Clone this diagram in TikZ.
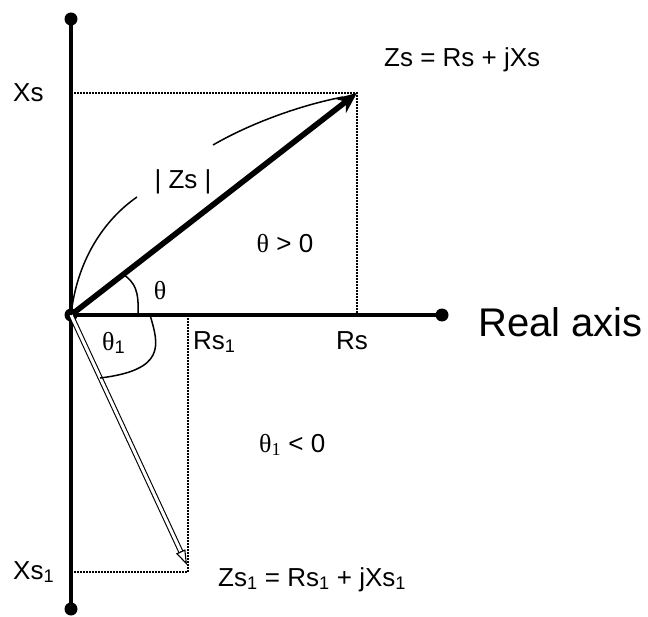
\documentclass[tikz,border=0pt]{standalone}
\usepackage{fontspec}
\setmainfont{Liberation Sans}
\newfontfamily\thfont{Liberation Serif}
\usetikzlibrary{arrows.meta,calc}

\tikzset{
  axisline/.style={line width=4.6pt},
  guide/.style={densely dotted, line width=2pt},
  thin curve/.style={line width=1.5pt},
  lbl/.style={inner sep=0pt, font=\fontsize{26}{31}\selectfont},
}

\begin{document}
\begin{tikzpicture}[x=1pt,y=1pt]
    \useasboundingbox (-71,-301) rectangle (577,315);

    % Points
    \coordinate (O) at (0,0);
    \coordinate (Ytop) at (0,296);
    \coordinate (Ybot) at (0,-294);
    \coordinate (Xend) at (371,0);
    \coordinate (Zs) at (286,222);
    \coordinate (Xs) at (0,222);
    \coordinate (Rs) at (286,0);
    \coordinate (Zsone) at (117,-257);
    \coordinate (Xsone) at (0,-257);
    \coordinate (Rsone) at (117,0);
    \coordinate (Zsonetip) at (116,-250);

    % Dotted projections
    \draw[guide] (Xs) -- (Zs) -- (Rs);
    \draw[guide] (Rsone) -- (Zsone) -- (Xsone);

    % Axes
    \draw[axisline] (Ybot) -- (Ytop);
    \draw[axisline] (O) -- (Xend);
    \fill (Ytop) circle (6.5);
    \fill (Ybot) circle (6.5);
    \fill (Xend) circle (6.5);
    \fill (O) circle (6.5);

    % Zs vector
    \draw[line width=5.6pt, -{Stealth[length=21pt,width=18pt]}] (O) -- (Zs);

    % Zs1 vector
    \draw[double, double distance=3pt, line width=1.1pt, shorten >=14pt] (O) -- (Zsonetip);
    \draw[line width=1.1pt, -{Triangle[open, length=15pt, width=10pt]}] ($(Zsonetip)!15pt!(O)$) -- (Zsonetip);

    % Angles
    \draw[thin curve] (67,0) .. controls (68,25) and (64,32) .. (52,41);
    \draw[thin curve] (79,0) .. controls (88,-30) and (95,-55) .. (29,-63);

    % |Zs| curve
    \draw[thin curve] (O) .. controls (6,55) and (33,95) .. (66,118);
    \draw[thin curve] (142,170) .. controls (180,192) and (230,210) .. (272,218);

    % Text labels
    \node[lbl, anchor=base west] at (-58,213) {Xs};
    \node[lbl, anchor=base west] at (-58,-264) {Xs\textsubscript{1}};
    \node[lbl, anchor=base west] at (313,248) {Zs = Rs + jXs};
    \node[lbl, anchor=base west] at (147,-271) {Zs\textsubscript{1} = Rs\textsubscript{1} + jXs\textsubscript{1}};
    \node[lbl, anchor=base] at (112,126) {| Zs |};
    \node[lbl, anchor=base] at (214,63) {{\thfont θ} > 0};
    \node[lbl, anchor=base] at (89,16) {\thfont θ};
    \node[lbl, anchor=base west] at (31,-35) {{\thfont θ}\textsubscript{1}};
    \node[lbl, anchor=base west] at (122,-34) {Rs\textsubscript{1}};
    \node[lbl, anchor=base] at (281,-34) {Rs};
    \node[lbl, anchor=base west, font=\fontsize{40}{48}\selectfont] at (407,-21) {Real axis};
    \node[lbl, anchor=base west] at (188,-137) {{\thfont θ\textsubscript{1}} < 0};

\end{tikzpicture}
\end{document}
